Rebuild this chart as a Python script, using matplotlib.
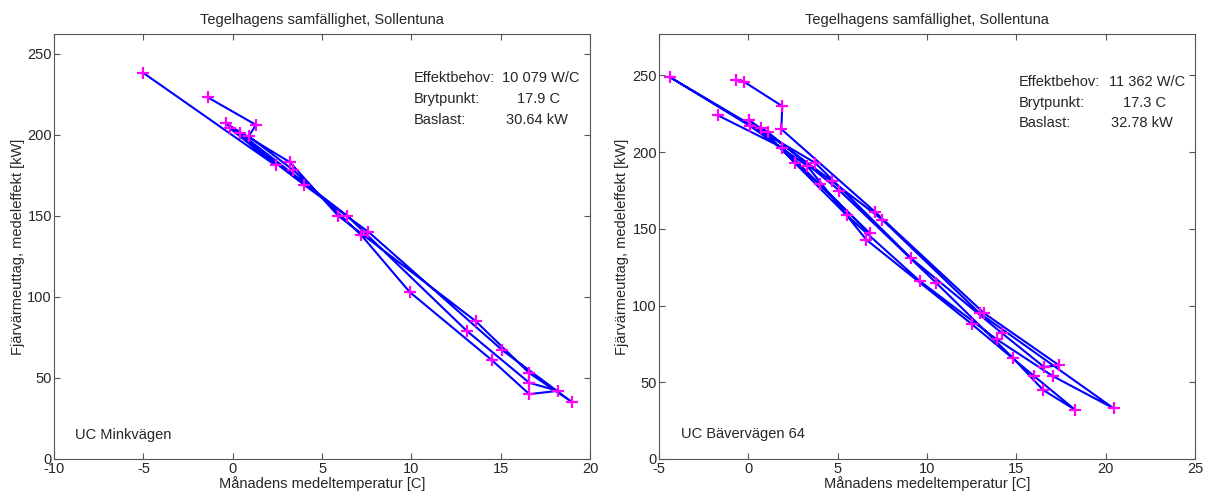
import matplotlib
matplotlib.use('Agg')
import matplotlib.pyplot as plt

plt.rcParams['font.family'] = ['Liberation Sans', 'DejaVu Sans']
plt.rcParams['axes.unicode_minus'] = False

# Monthly mean temperature [C] and mean district heating power [kW], in time order
mink_temp = [-1.4, 1.3, 0.9, 3.4, 7.2, 9.9, 14.5, 16.6, 18.2, 16.6, 13.1, 6.4, 0.4,
             -0.4, 3.2, 5.9, 13.6, 16.6, 19.0, 15.1, 7.6, 4.0, -0.15, 2.4, -5.0]
mink_power = [223, 206, 199, 178, 138, 103, 61, 40, 42, 47, 79, 150, 201,
              207, 183, 150, 85, 53, 35, 67, 140, 169, 204, 181, 238]

baver_temp = [-0.7, -0.25, 1.9, 1.85, 7.1, 13.2, 17.4, 16.55, 14.2, 9.1, 3.75, -4.4,
              0.1, 3.3, 6.6, 12.5, 16.0, 18.3, 16.5, 14.8, 10.5, 5.1, 1.1, 0.7,
              2.6, 5.5, 9.6, 13.9, 17.05, 20.45, 12.95, 7.5, 4.7, 0.05, 4.0, 6.8,
              1.9, -1.7]
baver_power = [247, 246, 230, 215, 161, 95, 61, 60, 82, 131, 193, 249,
               217, 191, 143, 88, 54, 32, 45, 66, 115, 175, 213, 216,
               193, 159, 116, 78, 54, 33, 95, 156, 181, 221, 179, 147,
               203, 224]

panels = [
    dict(temp=mink_temp, power=mink_power, xlim=(-10, 20), ylim=(0, 262),
         name='UC Minkvägen', name_xy=(-8.8, 15),
         labels=['Effektbehov:', 'Brytpunkt:', 'Baslast:'],
         values=['10 079 W/C', '17.9 C', '30.64 kW'],
         lab_x=10.15, val_x=[15.1, 15.9, 15.3], rows=[235, 222, 209],
         rect=[0.0446, 0.0765, 0.4422, 0.855]),
    dict(temp=baver_temp, power=baver_power, xlim=(-5, 25), ylim=(0, 277),
         name='UC Bävervägen 64', name_xy=(-3.75, 16),
         labels=['Effektbehov:', 'Brytpunkt:', 'Baslast:'],
         values=['11 362 W/C', '17.3 C', '32.78 kW'],
         lab_x=15.15, val_x=[20.17, 20.97, 20.28], rows=[246, 232, 219],
         rect=[0.5437, 0.0765, 0.4422, 0.855]),
]

fig = plt.figure(figsize=(12.12, 4.97), dpi=100)
txt = '#262626'
fs = 10.5

for p in panels:
    ax = fig.add_axes(p['rect'])
    ax.plot(p['temp'], p['power'], color='#0000ff', lw=1.5, zorder=2)
    ax.plot(p['temp'], p['power'], ls='none', marker='+', ms=8, mew=1.6,
            color='#ff00ff', zorder=3)
    ax.set_xlim(*p['xlim'])
    ax.set_ylim(*p['ylim'])
    ax.set_xticks(range(p['xlim'][0], p['xlim'][1] + 1, 5))
    ax.set_yticks(range(0, 251, 50))
    ax.tick_params(direction='in', top=True, right=True, length=4, width=0.8,
                   color='#555555', labelsize=fs, labelcolor=txt)
    ax.tick_params(axis='x', pad=2.5)
    ax.tick_params(axis='y', pad=1.5)
    for s in ax.spines.values():
        s.set_color('#555555')
        s.set_linewidth(0.8)
    ax.set_title('Tegelhagens samfällighet, Sollentuna', fontsize=fs, color=txt, pad=7)
    ax.set_xlabel('Månadens medeltemperatur [C]', fontsize=fs, color=txt, labelpad=0)
    ax.set_ylabel('Fjärvärmeuttag, medeleffekt [kW]', fontsize=fs, color=txt, labelpad=2)
    for lab, val, vx, ry in zip(p['labels'], p['values'], p['val_x'], p['rows']):
        ax.text(p['lab_x'], ry, lab, fontsize=fs, color=txt, va='center', ha='left')
        ax.text(vx, ry, val, fontsize=fs, color=txt, va='center', ha='left')
    ax.text(p['name_xy'][0], p['name_xy'][1], p['name'], fontsize=fs, color=txt,
            va='center', ha='left')

fig.savefig('out.png', dpi=100)
